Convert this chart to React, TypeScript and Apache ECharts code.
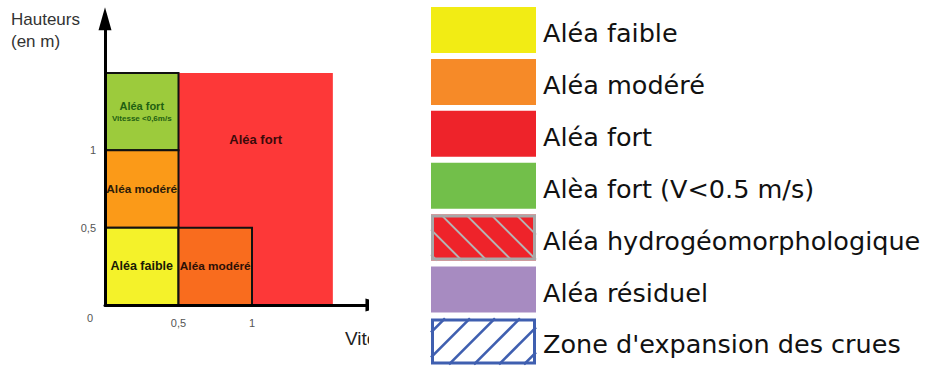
import React, { useEffect, useRef } from 'react';
import * as echarts from 'echarts';

// ---- Diagram data (velocity x, height y) ----
const zoneNames = ['Aléa fort', 'Aléa fort', 'Aléa modéré', 'Aléa faible', 'Aléa modéré'];
const zoneSub = ['', 'Vitesse <0,6m/s', '', '', ''];
const xStart = [0.5, 0, 0, 0, 0.5];
const xEnd = [1.55, 0.5, 0.5, 0.5, 1];
const yStart = [0, 1, 0.5, 0, 0];
const yEnd = [1.5, 1.5, 1, 0.5, 0.5];
const labelY = [1.07, 1.25, 0.75, 0.25, 0.25];

// styles
const zoneColors = ['#fd3838', '#9ccb3c', '#fb9a18', '#f4f22a', '#f96c1e'];
const zoneTextColors = ['#3b0a0a', '#1f6012', '#2b1a08', '#1a1a05', '#2b1006'];
const zoneFontSize = [13, 11, 11.8, 12.5, 11.8];
const zoneBorder = [false, true, true, true, true];

const tickValues = [0.5, 1];
const tickLabels = ['0,5', '1'];

// ---- Legend data ----
const legendLabels = [
  'Aléa faible',
  'Aléa modéré',
  'Aléa fort',
  'Alèa fort (V<0.5 m/s)',
  'Aléa hydrogéomorphologique',
  'Aléa résiduel',
  "Zone d'expansion des crues",
];
const legendFill = ['#f2ec14', '#f68a28', '#ee232a', '#72bf4a', '#ee232a', '#a78bc1', '#ffffff'];
const legendBorder = ['', '', '', '', '#a8a8a8', '', '#3f5fb0'];
const legendHatch = ['', '', '', '', 'back', '', 'fwd'];
const legendHatchColor = ['', '', '', '', '#b4b4b4', '', '#3f5fb0'];

const X_MAX = 1.85;
const Y_MAX = 1.85;
const PX_X = 147;
const PX_Y = 154.7;
const ORIGIN_X = 105;
const ORIGIN_Y = 305;

function tickFormatter(v: number) {
  const i = tickValues.indexOf(Math.round(v * 100) / 100);
  return i >= 0 ? tickLabels[i] : '';
}

function buildDiagram(): any {
  const data = zoneNames.map((_, i) => [xStart[i], xEnd[i], yStart[i], yEnd[i], labelY[i]]);
  return {
    animation: false,
    grid: {
      left: ORIGIN_X,
      top: ORIGIN_Y - Y_MAX * PX_Y,
      width: X_MAX * PX_X,
      height: Y_MAX * PX_Y,
    },
    xAxis: {
      type: 'value',
      min: 0,
      max: X_MAX,
      interval: 0.5,
      z: 10,
      axisLine: {
        lineStyle: { color: '#000', width: 3 },
        symbol: ['none', 'triangle'],
        symbolSize: [13, 23],
      },
      axisTick: { show: false },
      splitLine: { show: false },
      axisLabel: {
        formatter: tickFormatter,
        color: '#555',
        fontSize: 11,
        fontFamily: '"Liberation Sans", Arial, sans-serif',
        margin: 12,
        showMaxLabel: false,
      },
    },
    yAxis: {
      type: 'value',
      min: 0,
      max: Y_MAX,
      interval: 0.5,
      z: 10,
      axisLine: {
        lineStyle: { color: '#000', width: 3 },
        symbol: ['none', 'triangle'],
        symbolSize: [13, 23],
      },
      axisTick: { show: false },
      splitLine: { show: false },
      axisLabel: {
        formatter: tickFormatter,
        color: '#555',
        fontSize: 11,
        fontFamily: '"Liberation Sans", Arial, sans-serif',
        margin: 9,
        showMaxLabel: false,
      },
    },
    series: [
      {
        type: 'custom',
        clip: false,
        encode: { x: [0, 1], y: [2, 3] },
        data,
        renderItem: (params: any, api: any) => {
          const i = params.dataIndex;
          const p0 = api.coord([api.value(0), api.value(3)]);
          const p1 = api.coord([api.value(1), api.value(2)]);
          const lp = api.coord([(api.value(0) + api.value(1)) / 2, api.value(4)]);
          const sub = zoneSub[i];
          const text = sub
            ? `{a|${zoneNames[i]}}\n{b|${sub}}`
            : `{a|${zoneNames[i]}}`;
          return {
            type: 'group',
            children: [
              {
                type: 'rect',
                shape: { x: p0[0], y: p0[1], width: p1[0] - p0[0], height: p1[1] - p0[1] },
                style: {
                  fill: zoneColors[i],
                  stroke: zoneBorder[i] ? '#111' : 'none',
                  lineWidth: zoneBorder[i] ? 2 : 0,
                },
              },
              {
                type: 'text',
                z2: 10,
                style: {
                  text,
                  x: lp[0],
                  y: lp[1],
                  align: 'center',
                  verticalAlign: 'middle',
                  rich: {
                    a: {
                      fill: zoneTextColors[i],
                      font: `bold ${zoneFontSize[i]}px "Liberation Sans", Arial, sans-serif`,
                      lineHeight: 14,
                      align: 'center',
                    },
                    b: {
                      fill: zoneTextColors[i],
                      font: 'bold 8px "Liberation Sans", Arial, sans-serif',
                      lineHeight: 11,
                      align: 'center',
                    },
                  },
                },
              },
            ],
          };
        },
      },
    ],
    graphic: [
      {
        type: 'text',
        left: 11,
        top: 8,
        style: {
          text: 'Hauteurs\n(en m)',
          font: '17px "Liberation Sans", Arial, sans-serif',
          lineHeight: 22,
          fill: '#333',
        },
      },
      {
        type: 'text',
        x: 90,
        y: 318,
        style: {
          text: '0',
          font: '11px "Liberation Sans", Arial, sans-serif',
          fill: '#555',
          align: 'center',
          verticalAlign: 'middle',
        },
      },
      {
        type: 'text',
        x: 345,
        y: 329,
        style: {
          text: 'Vitesse',
          font: '19px "Liberation Sans", Arial, sans-serif',
          fill: '#222',
        },
      },
    ],
  };
}

function hatchLines(x0: number, y0: number, w: number, h: number, spacing: number, dir: string, color: string) {
  const out: any[] = [];
  if (dir === 'back') {
    for (let k = x0 - (y0 + h) + 6; k < x0 + w - y0; k += spacing) {
      const ya = Math.max(y0, x0 - k);
      const yb = Math.min(y0 + h, x0 + w - k);
      if (yb > ya) {
        out.push({
          type: 'line',
          shape: { x1: ya + k, y1: ya, x2: yb + k, y2: yb },
          style: { stroke: color, lineWidth: 2 },
        });
      }
    }
  } else {
    for (let k = x0 + y0 + 14; k < x0 + w + y0 + h; k += spacing) {
      const ya = Math.max(y0, k - x0 - w);
      const yb = Math.min(y0 + h, k - x0);
      if (yb > ya) {
        out.push({
          type: 'line',
          shape: { x1: k - ya, y1: ya, x2: k - yb, y2: yb },
          style: { stroke: color, lineWidth: 2.6 },
        });
      }
    }
  }
  return out;
}

function buildLegend(): any {
  const sx = 61;
  const sw = 105;
  const sh = 46;
  const top0 = 7;
  const pitch = 51.9;
  const elements: any[] = [];
  legendLabels.forEach((label, i) => {
    const y = top0 + i * pitch;
    const border = legendBorder[i];
    elements.push({
      type: 'rect',
      shape: { x: sx, y, width: sw, height: sh },
      style: { fill: legendFill[i] },
    });
    if (border) {
      elements.push(...hatchLines(sx, y, sw, sh, 25, legendHatch[i], legendHatchColor[i]));
      elements.push({
        type: 'rect',
        shape: { x: sx + 1.5, y: y + 1.5, width: sw - 3, height: sh - 3 },
        style: { fill: 'none', stroke: border, lineWidth: 3 },
      });
    }
    elements.push({
      type: 'text',
      x: 173,
      y: y + sh / 2 + 3,
      style: {
        text: label,
        font: '25.5px "DejaVu Sans", Verdana, sans-serif',
        fill: '#111',
        align: 'left',
        verticalAlign: 'middle',
      },
    });
  });
  return { animation: false, graphic: elements };
}

export default function App() {
  const leftRef = useRef<HTMLDivElement>(null);
  const rightRef = useRef<HTMLDivElement>(null);
  useEffect(() => {
    const c1 = echarts.init(leftRef.current!, undefined, { renderer: 'svg' });
    c1.setOption(buildDiagram());
    const c2 = echarts.init(rightRef.current!, undefined, { renderer: 'svg' });
    c2.setOption(buildLegend());
    return () => {
      c1.dispose();
      c2.dispose();
    };
  }, []);
  return (
    <div style={{ position: 'fixed', left: 0, top: 0, width: 926, height: 367, background: '#fff' }}>
      <div style={{ position: 'absolute', left: 0, top: 0, width: 369, height: 367, overflow: 'hidden' }}>
        <div ref={leftRef} style={{ position: 'absolute', left: 0, top: 0, width: 420, height: 367 }} />
      </div>
      <div ref={rightRef} style={{ position: 'absolute', left: 370, top: 0, width: 556, height: 367 }} />
    </div>
  );
}
